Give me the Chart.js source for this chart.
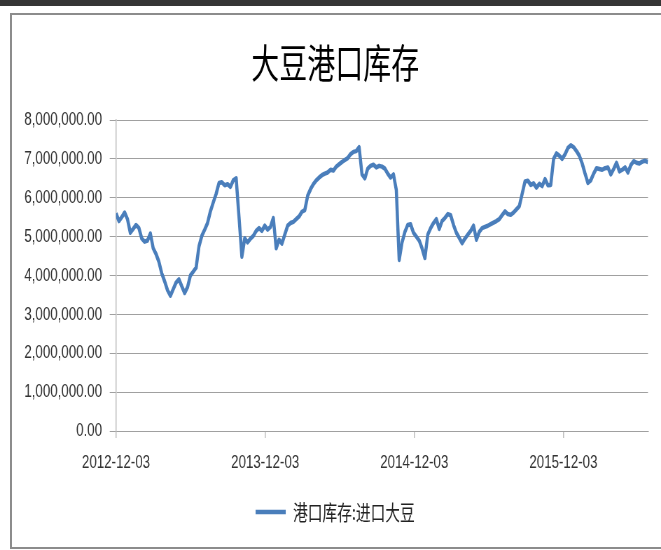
<!DOCTYPE html>
<html>
<head>
<meta charset="utf-8">
<script src="https://cdn.jsdelivr.net/npm/chart.js"></script>
<style>
  html, body { margin: 0; padding: 0; background: #fff; overflow: hidden; }
  #topbar { position: absolute; left: 0; top: 0; width: 661px; height: 6px; background: #353535; }
  #frame { position: absolute; left: 10px; top: 13px; width: 700px; height: 532px; border: 2px solid #8c8c8c; }
  /* the reference is squeezed sideways, so draw wide and scale down */
  #wrap { position: absolute; left: 0; top: 0; width: 944px; height: 550px; transform: scaleX(0.70021); transform-origin: 0 0; }
</style>
</head>
<body>
<div id="topbar"></div>
<div id="frame"></div>
<div id="wrap"><canvas id="stockChart" width="944" height="550"></canvas></div>
<script>
// weekly port stocks of imported soybeans, tonnes, from 2012-12-03
const stock = [
  5600000, 5400000, 5500000, 5620000, 5450000, 5100000, 5200000, 5300000, 5220000, 4950000,
  4870000, 4900000, 5080000, 4700000, 4550000, 4350000, 4050000, 3850000, 3620000, 3480000,
  3650000, 3820000, 3900000, 3720000, 3550000, 3700000, 4000000, 4100000, 4200000, 4750000,
  5020000, 5180000, 5350000, 5650000, 5880000, 6100000, 6380000, 6400000, 6320000, 6350000,
  6280000, 6450000, 6500000, 5500000, 4480000, 4960000, 4850000, 4950000, 5020000, 5150000,
  5220000, 5150000, 5280000, 5180000, 5250000, 5480000, 4700000, 4920000, 4820000, 5050000,
  5280000, 5350000, 5380000, 5450000, 5520000, 5640000, 5680000, 6050000, 6220000, 6350000,
  6450000, 6520000, 6580000, 6620000, 6650000, 6720000, 6700000, 6800000, 6860000, 6920000,
  6970000, 7020000, 7120000, 7180000, 7200000, 7300000, 6600000, 6500000, 6750000, 6820000,
  6850000, 6780000, 6820000, 6800000, 6750000, 6620000, 6520000, 6600000, 6200000, 4400000,
  4850000, 5120000, 5300000, 5320000, 5100000, 5000000, 4900000, 4700000, 4450000, 5050000,
  5220000, 5350000, 5450000, 5200000, 5400000, 5480000, 5580000, 5550000, 5300000, 5100000,
  4970000, 4830000, 4950000, 5050000, 5150000, 5280000, 4920000, 5120000, 5220000, 5250000,
  5280000, 5320000, 5360000, 5400000, 5450000, 5550000, 5650000, 5580000, 5560000, 5620000,
  5700000, 5780000, 6100000, 6420000, 6440000, 6330000, 6370000, 6260000, 6360000, 6300000,
  6480000, 6320000, 6330000, 7000000, 7140000, 7080000, 7000000, 7120000, 7280000, 7350000,
  7300000, 7200000, 7080000, 6880000, 6620000, 6380000, 6450000, 6620000, 6760000, 6740000,
  6720000, 6760000, 6780000, 6600000, 6740000, 6900000, 6680000, 6720000, 6780000, 6650000,
  6840000, 6940000, 6900000, 6880000, 6930000, 6950000, 6920000
];

// x tick labels and their distance in days from the first date
const tickLabels = ["2012-12-03", "2013-12-03", "2014-12-03", "2015-12-03"];
const tickDays = [0, 365, 730, 1095];

const seriesName = "港口库存:进口大豆";
const chartTitle = "大豆港口库存";

const points = stock.map((v, i) => ({ x: i * 7, y: v }));

const ctx = document.getElementById("stockChart").getContext("2d");

new Chart(ctx, {
  type: "line",
  data: {
    datasets: [
      {
        label: seriesName,
        data: points,
        borderColor: "#4a7ebb",
        backgroundColor: "#4a7ebb",
        borderWidth: 4.5,
        pointRadius: 0,
        tension: 0,
        borderJoinStyle: "round",
      },
    ],
  },
  options: {
    responsive: false,
    animation: false,
    devicePixelRatio: 1,
    layout: { padding: { left: 32, right: 18.6, top: 38.5, bottom: 17.5 } },
    scales: {
      x: {
        type: "linear",
        min: 0,
        max: 1302,
        afterBuildTicks: (scale) => {
          scale.ticks = tickDays.map((d) => ({ value: d }));
        },
        afterFit: (scale) => {
          scale.height = 60.5;
        },
        ticks: {
          autoSkip: false,
          maxRotation: 0,
          padding: 13.6,
          color: "#333",
          font: { family: "Liberation Sans", size: 19 },
          callback: (value) => tickLabels[tickDays.indexOf(value)],
        },
        grid: {
          drawOnChartArea: false,
          drawTicks: true,
          tickLength: 7,
          color: "#bdbdbd",
          lineWidth: 1.5,
        },
        border: { display: true, color: "#a0a0a0" },
      },
      y: {
        min: 0,
        max: 8000000,
        afterFit: (scale) => {
          scale.width = 133.7;
        },
        ticks: {
          stepSize: 1000000,
          padding: 11,
          color: "#333",
          font: { family: "Liberation Sans", size: 19 },
          callback: (value) =>
            value.toLocaleString("en-US", { minimumFractionDigits: 2, maximumFractionDigits: 2 }),
        },
        grid: {
          color: "#a0a0a0",
          lineWidth: 1,
          tickLength: 9,
        },
        border: { display: true, color: "#bdbdbd", width: 1.5 },
      },
    },
    plugins: {
      title: {
        display: true,
        text: chartTitle,
        color: "#000",
        font: { family: "Noto Sans CJK SC", size: 40, weight: "normal" },
        padding: { top: 0, bottom: 33.5 },
      },
      legend: {
        display: true,
        position: "bottom",
        labels: {
          usePointStyle: true,
          pointStyle: "line",
          pointStyleWidth: 43,
          color: "#222",
          padding: 10,
          font: { family: "Noto Sans CJK SC", size: 21 },
        },
      },
      tooltip: { enabled: false },
    },
  },
});
</script>
</body>
</html>
